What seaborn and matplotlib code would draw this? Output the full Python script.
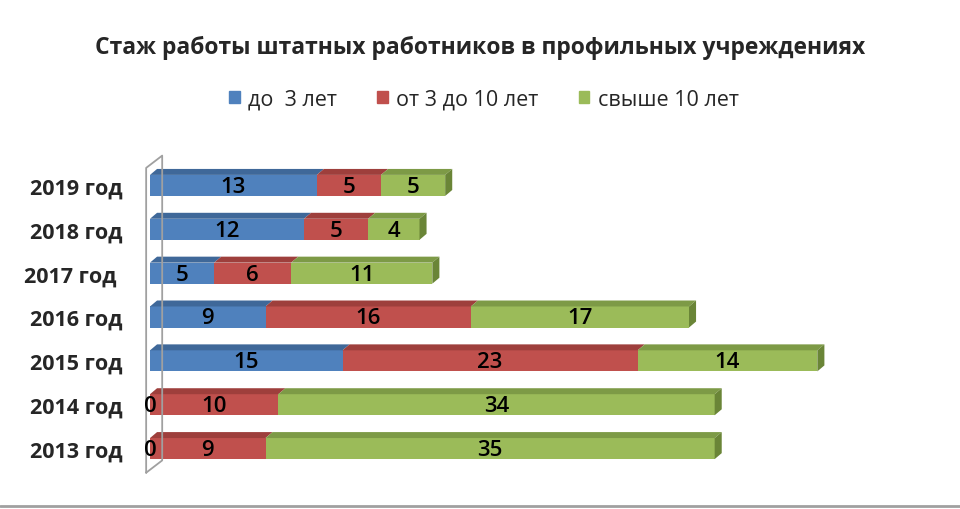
import numpy as np
import pandas as pd
import matplotlib.pyplot as plt
import seaborn as sns
from matplotlib.patches import Polygon
from matplotlib.lines import Line2D

# Данные
years = ['2019 год', '2018 год', '2017 год ', '2016 год', '2015 год', '2014 год', '2013 год']
do_3 = [13, 12, 5, 9, 15, 0, 0]
ot_3_do_10 = [5, 5, 6, 16, 23, 10, 9]
svyshe_10 = [5, 4, 11, 17, 14, 34, 35]
series_names = ['до  3 лет', 'от 3 до 10 лет', 'свыше 10 лет']

front = ['#4F81BD', '#C0504D', '#9BBB59']
top = ['#3F6899', '#9E3F3C', '#7D9A46']
side = ['#3A5F8C', '#8E3936', '#6A8537']

df = pd.DataFrame({'year': years, 'a': do_3, 'b': ot_3_do_10, 'c': svyshe_10})
df['ab'] = df['a'] + df['b']
df['abc'] = df['ab'] + df['c']

sns.set_theme(style='white')
plt.rcParams['font.family'] = ['Open Sans', 'DejaVu Sans']

fig = plt.figure(figsize=(9.6, 5.1), dpi=100)
ax = fig.add_axes([150 / 960, 1 - 471.5 / 510, 770 / 960, 307 / 510])

bh = 0.48
# stacked bars: total first, then smaller sums on top
sns.barplot(data=df, y='year', x='abc', order=years, orient='h', color=front[2],
            width=bh, saturation=1, ax=ax)
sns.barplot(data=df, y='year', x='ab', order=years, orient='h', color=front[1],
            width=bh, saturation=1, ax=ax)
sns.barplot(data=df, y='year', x='a', order=years, orient='h', color=front[0],
            width=bh, saturation=1, ax=ax)
for p in ax.patches:
    p.set_edgecolor('none')

ax.set_xlim(0, 60)
ax.set_ylim(6.5, -0.5)

# 3D effect: top faces and right side face
dx, dy = 0.55, 0.136
for i in range(len(years)):
    y_top = i - bh / 2
    starts = [0, df['a'][i], df['ab'][i]]
    ends = [df['a'][i], df['ab'][i], df['abc'][i]]
    for k in range(3):
        x0, x1 = starts[k], ends[k]
        if x1 - x0 <= 0:
            continue
        ax.add_patch(Polygon([(x0, y_top), (x1, y_top), (x1 + dx, y_top - dy), (x0 + dx, y_top - dy)],
                             closed=True, facecolor=top[k], edgecolor='none', clip_on=False))
    xe = df['abc'][i]
    ax.add_patch(Polygon([(xe, y_top), (xe + dx, y_top - dy), (xe + dx, y_top + bh - dy), (xe, y_top + bh)],
                         closed=True, facecolor=side[2], edgecolor='none', clip_on=False))

# data labels
for i in range(len(years)):
    vals = [df['a'][i], df['b'][i], df['c'][i]]
    starts = [0, df['a'][i], df['ab'][i]]
    for k in range(3):
        ax.text(starts[k] + vals[k] / 2, i + 0.02, str(vals[k]), ha='center', va='center',
                fontsize=16, fontweight='semibold', color='black')

# left wall
wall_x = [-0.3, -0.3, 0.95, 0.95, -0.3]
wall_y = [6.55, -0.4, -0.68, 6.27, 6.55]
ax.add_line(Line2D(wall_x, wall_y, color='#A0A0A0', lw=1.3, clip_on=False))

sns.despine(ax=ax, left=True, bottom=True)
ax.set_xticks([])
ax.set_xlabel('')
ax.set_ylabel('')
ax.tick_params(axis='y', length=0, pad=20)
for lbl in ax.get_yticklabels():
    lbl.set_fontsize(15.5)
    lbl.set_fontweight('bold')

fig.text(0.5, 1 - 48 / 510, 'Стаж работы штатных работников в профильных учреждениях',
         ha='center', va='center', fontsize=16.5, fontweight='bold')

handles = [plt.Rectangle((0, 0), 1, 1, color=c) for c in front]
fig.legend(handles, series_names, loc='center', bbox_to_anchor=(0.504, 1 - 100 / 510), ncol=3,
           frameon=False, fontsize=15.5, handlelength=0.5, handleheight=0.5,
           handletextpad=0.4, columnspacing=1.85)

fig.add_artist(Line2D([0, 1], [1 - 507 / 510, 1 - 507 / 510], color='#A0A0A0', lw=2,
                      transform=fig.transFigure))

fig.savefig('out.png', dpi=100)
